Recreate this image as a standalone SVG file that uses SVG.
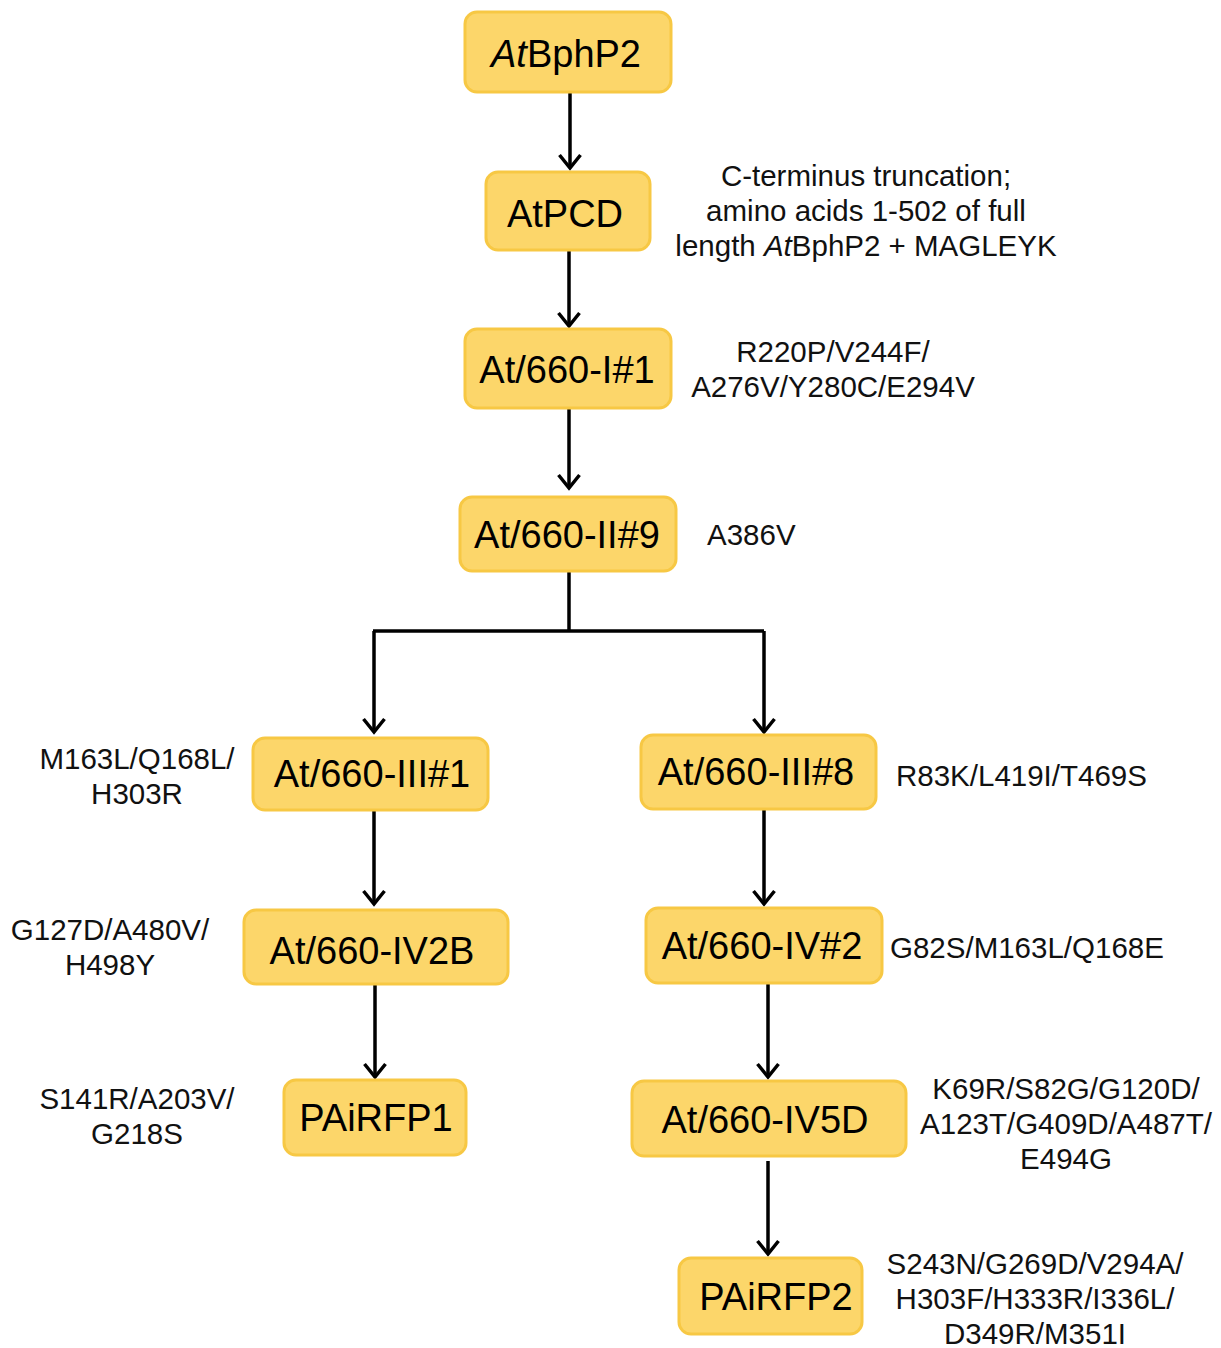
<svg xmlns="http://www.w3.org/2000/svg" width="1221" height="1348" viewBox="0 0 1221 1348">
<style>
.box{fill:#FCD66A;stroke:#F7C844;stroke-width:3}
.bt{font-family:"Liberation Sans",Arial,sans-serif;font-size:38px;fill:#000;text-anchor:middle}
.lb{font-family:"Liberation Sans",Arial,sans-serif;font-size:29.5px;fill:#111}
.c{text-anchor:middle}
.ln{fill:none;stroke:#000;stroke-width:3.5}
</style>
<defs>
<marker id="ah" viewBox="0 0 22 24" refX="18" refY="12" markerWidth="22" markerHeight="24" markerUnits="userSpaceOnUse" orient="auto">
<path d="M5,1.5 L18,12 L5,22.5" fill="none" stroke="#000" stroke-width="3.5"/>
</marker>
</defs>
<rect width="1221" height="1348" fill="#fff"/>
<g id="connectors">
<path class="ln" d="M570,93 V168" marker-end="url(#ah)"/>
<path class="ln" d="M569,251 V326" marker-end="url(#ah)"/>
<path class="ln" d="M569,409 V488" marker-end="url(#ah)"/>
<path class="ln" d="M569,572 V631"/>
<path class="ln" d="M373,631 H764"/>
<path class="ln" d="M374,631 V732" marker-end="url(#ah)"/>
<path class="ln" d="M764,631 V732" marker-end="url(#ah)"/>
<path class="ln" d="M374,811 V904" marker-end="url(#ah)"/>
<path class="ln" d="M764,810 V904" marker-end="url(#ah)"/>
<path class="ln" d="M375,985 V1077" marker-end="url(#ah)"/>
<path class="ln" d="M768,984 V1077" marker-end="url(#ah)"/>
<path class="ln" d="M768,1161 V1254" marker-end="url(#ah)"/>
</g>
<g id="n1"><rect class="box" x="465" y="12" width="206" height="80" rx="12"/><text class="bt" x="566" y="67"><tspan font-style="italic">At</tspan>BphP2</text></g>
<g id="n2"><rect class="box" x="486" y="172" width="164" height="78" rx="12"/><text class="bt" x="565" y="227">AtPCD</text></g>
<g id="n3"><rect class="box" x="465" y="329" width="206" height="79" rx="12"/><text class="bt" x="567" y="383">At/660-I#1</text></g>
<g id="n4"><rect class="box" x="460" y="497" width="216" height="74" rx="12"/><text class="bt" x="567" y="548">At/660-II#9</text></g>
<g id="n5"><rect class="box" x="253" y="738" width="235" height="72" rx="12"/><text class="bt" x="372" y="787">At/660-III#1</text></g>
<g id="n6"><rect class="box" x="641" y="735" width="235" height="74" rx="12"/><text class="bt" x="756" y="785">At/660-III#8</text></g>
<g id="n7"><rect class="box" x="244" y="910" width="264" height="74" rx="12"/><text class="bt" x="372" y="964">At/660-IV2B</text></g>
<g id="n8"><rect class="box" x="646" y="908" width="236" height="75" rx="12"/><text class="bt" x="762" y="959">At/660-IV#2</text></g>
<g id="n9"><rect class="box" x="284" y="1080" width="182" height="75" rx="12"/><text class="bt" x="376" y="1131">PAiRFP1</text></g>
<g id="n10"><rect class="box" x="632" y="1081" width="274" height="75" rx="12"/><text class="bt" x="765" y="1133">At/660-IV5D</text></g>
<g id="n11"><rect class="box" x="679" y="1258" width="183" height="76" rx="12"/><text class="bt" x="776" y="1310">PAiRFP2</text></g>
<g id="labels">
<text class="lb c" x="866" y="186">C-terminus truncation;</text>
<text class="lb c" x="866" y="221">amino acids 1-502 of full</text>
<text class="lb c" x="866" y="256">length <tspan font-style="italic">At</tspan>BphP2 + MAGLEYK</text>
<text class="lb c" x="833" y="362">R220P/V244F/</text>
<text class="lb c" x="833" y="397">A276V/Y280C/E294V</text>
<text class="lb" x="707" y="545">A386V</text>
<text class="lb c" x="137" y="769">M163L/Q168L/</text>
<text class="lb c" x="137" y="804">H303R</text>
<text class="lb" x="896" y="786">R83K/L419I/T469S</text>
<text class="lb c" x="110" y="940">G127D/A480V/</text>
<text class="lb c" x="110" y="975">H498Y</text>
<text class="lb" x="890" y="958">G82S/M163L/Q168E</text>
<text class="lb c" x="137" y="1109">S141R/A203V/</text>
<text class="lb c" x="137" y="1144">G218S</text>
<text class="lb c" x="1066" y="1099">K69R/S82G/G120D/</text>
<text class="lb c" x="1066" y="1134">A123T/G409D/A487T/</text>
<text class="lb c" x="1066" y="1169">E494G</text>
<text class="lb c" x="1035" y="1274">S243N/G269D/V294A/</text>
<text class="lb c" x="1035" y="1309">H303F/H333R/I336L/</text>
<text class="lb c" x="1035" y="1344">D349R/M351I</text>
</g>
</svg>
